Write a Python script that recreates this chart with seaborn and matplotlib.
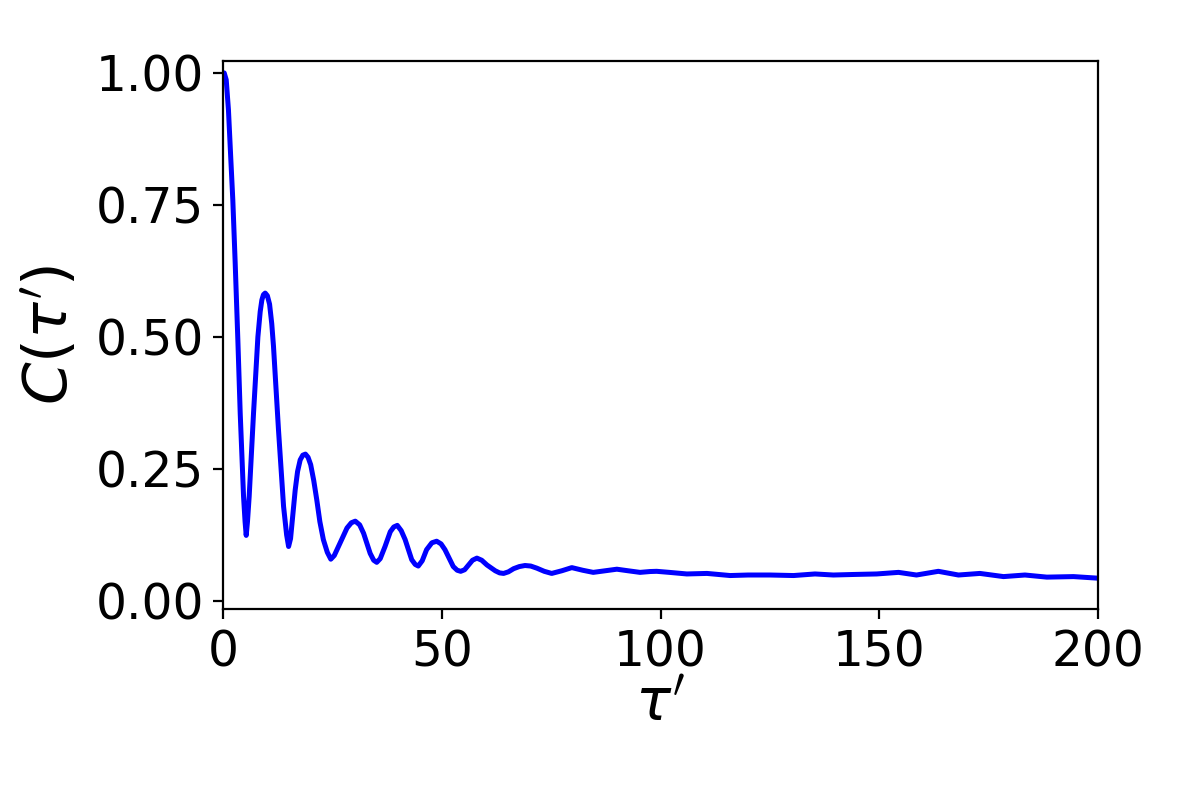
import matplotlib
matplotlib.use("Agg")
import matplotlib.pyplot as plt
import seaborn as sns
import pandas as pd

tau = [0.0, 0.23, 0.69, 1.2, 1.75, 2.2, 2.74, 3.35, 3.89, 4.65, 5.0, 5.26, 5.55, 5.94,
       6.93, 7.93, 8.46, 8.84, 9.2, 9.6, 10.1, 10.6, 11.1, 11.5, 12.64, 13.8, 14.5, 14.95,
       15.4, 16.0, 16.46, 17.0, 17.6, 18.2, 18.8, 19.4, 20.0, 20.7, 21.4, 22.1, 22.9, 23.8,
       24.6, 25.4, 26.35, 27.3, 28.3, 29.3, 30.2, 31.2, 32.1, 33.6, 34.4, 35.1, 35.9,
       37.0, 38.2, 39.0, 39.8, 40.7, 41.6, 43.1, 43.9, 44.6, 45.5, 46.5, 47.7, 48.8,
       49.8, 50.7, 52.6, 53.5, 54.3, 55.2, 56.1, 57.0, 58.0, 59.1, 60.3, 62.2, 63.2, 64.1,
       65.2, 66.4, 67.7, 69.0, 70.3, 71.7, 73.4, 75.1, 77.4, 79.7, 82.2, 84.6, 87.3, 90.0,
       92.6, 95.3, 97.6, 99.1, 102.0, 106.0, 110.6, 115.9, 120.0, 125.0, 130.4, 135.3,
       139.5, 144.0, 149.4, 154.4, 158.5, 163.5, 168.1, 173.0, 178.4, 183.3, 188.3,
       194.4, 200.0]
corr = [1.0, 1.0, 0.987, 0.930, 0.835, 0.759, 0.640, 0.494, 0.355, 0.198, 0.150, 0.124,
        0.150, 0.198, 0.355, 0.500, 0.548, 0.570, 0.580, 0.583, 0.578, 0.562, 0.525,
        0.482, 0.324, 0.179, 0.125, 0.103, 0.118, 0.170, 0.210, 0.245, 0.267, 0.276,
        0.278, 0.272, 0.258, 0.228, 0.191, 0.150, 0.116, 0.092, 0.079, 0.086, 0.103,
        0.120, 0.138, 0.148, 0.151, 0.144, 0.128, 0.090, 0.077, 0.073, 0.080, 0.103,
        0.131, 0.140, 0.143, 0.133, 0.116, 0.078, 0.069, 0.066, 0.076, 0.097, 0.110,
        0.113, 0.108, 0.097, 0.065, 0.058, 0.056, 0.059, 0.068, 0.077, 0.081, 0.077,
        0.068, 0.057, 0.053, 0.052, 0.055, 0.061, 0.065, 0.067, 0.066, 0.062, 0.056,
        0.052, 0.057, 0.063, 0.058, 0.054, 0.057, 0.060, 0.057, 0.054, 0.0556, 0.056,
        0.054, 0.051, 0.052, 0.048, 0.049, 0.049, 0.048, 0.051, 0.049, 0.050, 0.051,
        0.054, 0.049, 0.056, 0.049, 0.052, 0.046, 0.049, 0.045, 0.046, 0.043]

df = pd.DataFrame({"tau": tau, "C": corr})

sns.set_style("white")
plt.rcParams["font.family"] = ["DejaVu Sans"]
plt.rcParams["mathtext.fontset"] = "dejavusans"
plt.rcParams["text.color"] = "black"
plt.rcParams["axes.labelcolor"] = "black"
plt.rcParams["xtick.color"] = "black"
plt.rcParams["ytick.color"] = "black"

fig = plt.figure(figsize=(6, 4), dpi=200)
ax = fig.add_axes([0.186, 0.239, 0.729, 0.685])
sns.lineplot(data=df, x="tau", y="C", ax=ax, color="blue", linewidth=1.8,
             estimator=None, sort=False)

ax.set_xlim(0, 200)
ax.set_ylim(-0.015, 1.023)
ax.set_xticks([0, 50, 100, 150, 200])
ax.set_yticks([0.0, 0.25, 0.5, 0.75, 1.0])
ax.set_yticklabels(["0.00", "0.25", "0.50", "0.75", "1.00"])
ax.tick_params(axis="both", which="major", labelsize=17.5, direction="out", length=3.5,
               width=0.8, bottom=True, left=True, colors="black")
for s in ax.spines.values():
    s.set_visible(True)
    s.set_color("black")
    s.set_linewidth(0.8)
ax.set_xlabel(r"$\tau'$", fontsize=21, labelpad=0)
ax.set_ylabel(r"$C(\tau')$", fontsize=22, labelpad=5)
ax.grid(False)

fig.savefig("out.png", dpi=200, facecolor="white")
